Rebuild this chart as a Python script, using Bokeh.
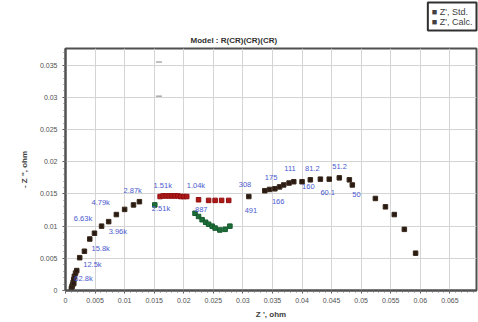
from bokeh.plotting import figure
from bokeh.models import (SingleIntervalTicker, NumeralTickFormatter, Title,
                          ColumnDataSource)
from bokeh.core.properties import value
from bokeh.embed import file_html
from bokeh.resources import INLINE

# ---- data ----
std_x = [0.0010, 0.0011, 0.0012, 0.0013, 0.0014, 0.0015, 0.0017,
         0.0014, 0.0019, 0.0024, 0.0032, 0.0041, 0.0049, 0.0061, 0.0073,
         0.0086, 0.0100, 0.0115, 0.0125,
         0.0310, 0.0337, 0.0345, 0.0354, 0.0362, 0.0369, 0.0378, 0.0386,
         0.0400, 0.0414, 0.0431, 0.0446, 0.0463, 0.0480, 0.0485,
         0.0524, 0.0541, 0.0556, 0.0573, 0.0592]
std_y = [0.0003, 0.0006, 0.0009, 0.0013, 0.0017, 0.0022, 0.0027,
         0.0011, 0.0031, 0.0051, 0.0061, 0.0080, 0.0089, 0.0100, 0.0107,
         0.0118, 0.0126, 0.0133, 0.0138,
         0.0146, 0.0155, 0.0157, 0.0158, 0.0161, 0.0164, 0.0167, 0.0169,
         0.0169, 0.0172, 0.0173, 0.0173, 0.0175, 0.0172, 0.0164,
         0.0143, 0.0130, 0.0118, 0.0095, 0.0058]

red_x = [0.0160, 0.0165, 0.0170, 0.0175, 0.0180, 0.0185, 0.0190, 0.0195, 0.0200, 0.0205,
         0.0225, 0.0242, 0.0253, 0.0264, 0.0276]
red_y = [0.0146, 0.0147, 0.0147, 0.0147, 0.0147, 0.0147, 0.0147, 0.0146, 0.0146, 0.0146,
         0.0141, 0.0140, 0.0140, 0.0140, 0.0140]

green_x = [0.0151, 0.0219, 0.0225, 0.0231, 0.0237, 0.0242, 0.0248, 0.0253, 0.0261, 0.0270, 0.0278]
green_y = [0.0133, 0.0120, 0.0115, 0.0110, 0.0106, 0.0103, 0.0100, 0.0097, 0.0094, 0.0095, 0.0100]

odd_x = [0.0158, 0.0158]
odd_y = [0.0355, 0.0302]

freq_labels = ["62.8k", "12.5k", "15.8k", "3.96k", "6.63k", "4.79k", "2.87k", "1.51k",
               "1.04k", "2.51k", "887", "308", "491", "175", "166", "111", "81.2",
               "51.2", "160", "60.1", "50"]
freq_x = [0.0015, 0.0030, 0.0044, 0.0073, 0.0014, 0.0044, 0.0098, 0.0149,
          0.0205, 0.0146, 0.0219, 0.0293, 0.0303, 0.0337, 0.0349, 0.0370, 0.0405,
          0.0451, 0.0400, 0.0431, 0.0485]
freq_y = [0.0018, 0.0041, 0.0066, 0.0092, 0.0112, 0.0137, 0.0155, 0.0163,
          0.0163, 0.0127, 0.0126, 0.0164, 0.0124, 0.0176, 0.0138, 0.0189, 0.0190,
          0.0192, 0.0161, 0.0153, 0.0149]

title_text = "Model : R(CR)(CR)(CR)"
legend_labels = ["Z', Std.", "Z', Calc."]

# ---- figure ----
p = figure(width=478, height=322, output_backend="svg", toolbar_location=None,
           x_range=(0, 0.0695), y_range=(0, 0.0376),
           min_border_left=65, min_border_right=2, min_border_top=45, min_border_bottom=32)
p.background_fill_color = "white"
p.outline_line_color = "#505050"
p.outline_line_width = 2

# the plot title slot (outermost) carries the boxed legend block at the top right
p.title.text = "\n".join("\u25a0 " + s for s in legend_labels)
p.title.align = "right"
p.title.text_font = "Liberation Sans"
p.title.text_font_size = "9px"
p.title.text_font_style = "normal"
p.title.text_color = "#404040"
p.title.border_line_color = "#303030"
p.title.border_line_width = 2
p.title.background_fill_color = "white"
p.title.standoff = 0
p.title.offset = 0
try:
    p.title.padding = 4
except Exception:
    pass

main_title = Title(text=title_text, align="left", offset=125, standoff=7,
                   text_font="Liberation Sans", text_font_size="8px",
                   text_font_style="bold", text_color="#303030")
p.add_layout(main_title, "above")

for ax, interval in ((p.xaxis, 0.005), (p.yaxis, 0.005)):
    ax.ticker = SingleIntervalTicker(interval=interval, num_minor_ticks=5)
    ax.formatter = NumeralTickFormatter(format="0.[000]")
    ax.major_label_text_font = "Liberation Sans"
    ax.major_label_text_font_size = "7px"
    ax.major_label_text_color = "#505050"
    ax.axis_line_width = 2
    ax.axis_line_color = "#505050"
    ax.major_tick_line_color = "#505050"
    ax.minor_tick_line_color = "#707070"
    ax.major_tick_out = 3
    ax.major_tick_in = 0
    ax.minor_tick_out = 2
    ax.minor_tick_in = 0
    ax.axis_label_text_font = "Liberation Sans"
    ax.axis_label_text_font_size = "8px"
    ax.axis_label_text_font_style = "bold"
    ax.axis_label_text_color = "#404040"

p.xaxis.axis_label = "Z ', ohm"
p.xaxis.axis_label_standoff = 4
p.xaxis.major_label_standoff = 4
p.yaxis.axis_label = "- Z '', ohm"
p.yaxis.axis_label_standoff = 8

p.grid.grid_line_color = "#d4d4d4"
p.grid.grid_line_width = 1

p.scatter(std_x, std_y, marker="square", size=4.5, fill_color="#2a1a14", line_color="#3a2a1a")
p.scatter(red_x, red_y, marker="square", size=4.5, fill_color="#b01818", line_color="#901010")
p.scatter(green_x, green_y, marker="square", size=4.5, fill_color="#1e6e3a", line_color="#145a2c")
p.scatter(odd_x, odd_y, marker="dash", size=6, line_color="#808080")

src = ColumnDataSource(dict(x=freq_x, y=freq_y, t=freq_labels))
p.text(x="x", y="y", text="t", source=src, text_font=value("Liberation Sans"),
       text_font_size="7.5px", text_color="#4a5ad0", text_baseline="middle")

open("out.html", "w").write(file_html(p, INLINE))
